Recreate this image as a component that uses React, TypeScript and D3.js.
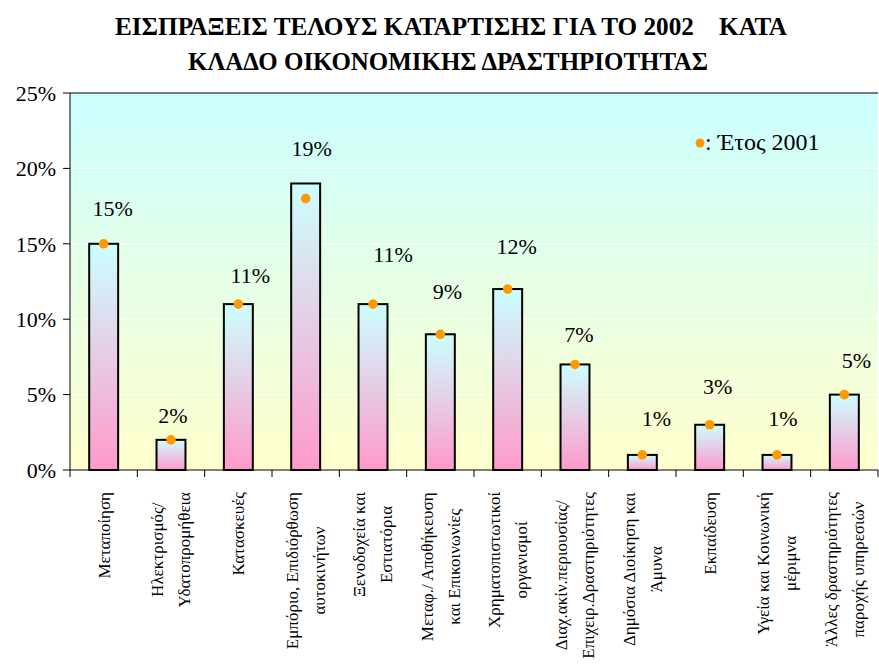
import React, { useEffect } from 'react';
import * as d3 from 'd3';

// Κλάδοι (ετικέτες άξονα x, σε γραμμές)
const categories: string[][] = [
  ['Μεταποίηση'],
  ['Ηλεκτρισμός/', 'Υδατοπρομήθεια'],
  ['Κατασκευές'],
  ['Εμπόριο, Επιδιόρθωση', 'αυτοκινήτων'],
  ['Ξενοδοχεία και', 'Εστιατόρια'],
  ['Μεταφ./ Αποθήκευση', 'και Επικοινωνίες'],
  ['Χρηματοπιστωτικοί', 'οργανισμοί'],
  ['Διαχ.ακίν.περιουσίας/', 'Επιχειρ.Δραστηριότητες'],
  ['Δημόσια Διοίκηση και', 'Άμυνα'],
  ['Εκπαίδευση'],
  ['Υγεία και Κοινωνική', 'μέριμνα'],
  ['Άλλες δραστηριότητες', 'παροχής υπηρεσιών'],
];

// Έτος 2002 (ράβδοι) και Έτος 2001 (κουκκίδες), σε %
const values2002 = [15, 2, 11, 19, 11, 9, 12, 7, 1, 3, 1, 5];
const values2001 = [15, 2, 11, 18, 11, 9, 12, 7, 1, 3, 1, 5];

const yTicks = [0, 5, 10, 15, 20, 25];

const TITLE = [
  'ΕΙΣΠΡΑΞΕΙΣ ΤΕΛΟΥΣ ΚΑΤΑΡΤΙΣΗΣ ΓΙΑ ΤΟ 2002    ΚΑΤΑ',
  'ΚΛΑΔΟ ΟΙΚΟΝΟΜΙΚΗΣ ΔΡΑΣΤΗΡΙΟΤΗΤΑΣ',
];

// layout
const W = 879;
const H = 668;
const M = { left: 70, right: 878, top: 93, bottom: 470 };
const FONT = 'Liberation Serif';
const TITLE_BOX: [number, number][] = [[115, 787], [188, 708]];
// hand-placed label offsets (dx, lift above bar top)
const LABEL_NUDGE: [number, number][] = [
  [9, 36], [2, 25], [12, 29], [6, 35], [20, 50], [7, 43],
  [9, 43], [4, 30], [14, 37], [8, 38], [6, 37], [12, 34],
];
const CAT_SIZE = 17;

const keys = categories.map((_, i) => String(i));
const x = d3.scaleBand<string>().domain(keys).range([M.left, M.right]);
const y = d3.scaleLinear().domain([0, 25]).range([M.bottom, M.top]);
const barW = x.bandwidth() * 0.43;
const cx = (i: number) => x(keys[i])! + x.bandwidth() / 2;

let ctx: CanvasRenderingContext2D | null = null;
const measure = (s: string) => {
  if (!ctx) ctx = document.createElement('canvas').getContext('2d');
  if (!ctx) return s.length * CAT_SIZE * 0.5;
  ctx.font = `${CAT_SIZE}px "${FONT}"`;
  return ctx.measureText(s).width;
};

const App: React.FC = () => {
  useEffect(() => {
    document.body.style.margin = '0';
  }, []);

  const bounds = d3.range(categories.length + 1).map(i => M.left + i * x.step());

  return (
    <svg width={W} height={H} fontFamily={FONT} style={{ display: 'block', background: '#fff' }}>
      <defs>
        <linearGradient id="bg" x1={0} y1={0} x2={0} y2={1}>
          <stop offset="0%" stopColor="#CCFFFF" />
          <stop offset="100%" stopColor="#FFFFCC" />
        </linearGradient>
        <linearGradient id="barGrad" x1={0} y1={0} x2={0} y2={1}>
          <stop offset="0%" stopColor="#CCFFFF" />
          <stop offset="100%" stopColor="#FF99CC" />
        </linearGradient>
      </defs>

      {/* Title */}
      {TITLE.map((t, i) => (
        <text
          key={i}
          x={TITLE_BOX[i][0]}
          y={35 + i * 35}
          fontFamily={FONT}
          fontWeight="bold"
          fontSize={25}
          textLength={TITLE_BOX[i][1] - TITLE_BOX[i][0]}
          lengthAdjust="spacingAndGlyphs"
          style={{ whiteSpace: 'pre' }}
        >
          {t}
        </text>
      ))}

      {/* Plot background */}
      <rect x={M.left} y={M.top} width={M.right - M.left} height={M.bottom - M.top} fill="url(#bg)" />

      {/* Gridlines */}
      {yTicks.filter(d => d > 0 && d < 25).map(d => (
        <line key={d} x1={M.left} x2={M.right} y1={y(d)} y2={y(d)} stroke="#fff" strokeWidth={1} />
      ))}
      <line x1={M.left} x2={M.right} y1={y(25)} y2={y(25)} stroke="#000" strokeWidth={1} />

      {/* Bars */}
      {values2002.map((v, i) => (
        <rect
          key={i}
          x={cx(i) - barW / 2}
          y={y(v)}
          width={barW}
          height={y(0) - y(v)}
          fill="url(#barGrad)"
          stroke="#000"
          strokeWidth={2}
        />
      ))}

      {/* Y axis */}
      <line x1={M.left} x2={M.left} y1={M.top} y2={M.bottom} stroke="#000" />
      {yTicks.map(d => (
        <g key={d}>
          <line x1={M.left - 7} x2={M.left} y1={y(d)} y2={y(d)} stroke="#000" />
          <text x={M.left - 14} y={y(d)} dy="0.35em" textAnchor="end" fontFamily={FONT} fontSize={22} fill="#000">
            {`${d}%`}
          </text>
        </g>
      ))}

      {/* X axis */}
      <line x1={M.left} x2={M.right} y1={M.bottom} y2={M.bottom} stroke="#000" />
      {bounds.map((b, i) => (
        <line key={i} x1={b} x2={b} y1={M.bottom} y2={M.bottom + 7} stroke="#000" />
      ))}

      {/* Category labels (rotated) */}
      {categories.map((lines, i) => {
        const wMax = d3.max(lines, l => measure(l)) || 0;
        const ty = 492 + wMax / 2;
        return lines.map((line, j) => {
          const off = (j - (lines.length - 1) / 2) * 27;
          return (
            <text
              key={`${i}-${j}`}
              transform={`translate(${cx(i) + off},${ty}) rotate(-90)`}
              textAnchor="middle"
              dy="0.35em"
              fontFamily={FONT}
              fontSize={CAT_SIZE}
              fill="#000"
            >
              {line}
            </text>
          );
        });
      })}

      {/* Dots: Έτος 2001 */}
      {values2001.map((v, i) => (
        <circle key={i} cx={cx(i)} cy={y(v)} r={4.8} fill="#FF9900" />
      ))}

      {/* Value labels */}
      {values2002.map((v, i) => (
        <text
          key={i}
          x={cx(i) + LABEL_NUDGE[i][0]}
          y={y(v) - LABEL_NUDGE[i][1]}
          dy="0.35em"
          textAnchor="middle"
          fontFamily={FONT}
          fontSize={22}
          fill="#000"
        >
          {`${v}%`}
        </text>
      ))}

      {/* Legend */}
      <circle cx={700} cy={143} r={4.5} fill="#FF9900" />
      <text x={705} y={150} fontFamily={FONT} fontSize={24} fill="#000">: Έτος 2001</text>
    </svg>
  );
};

export default App;
